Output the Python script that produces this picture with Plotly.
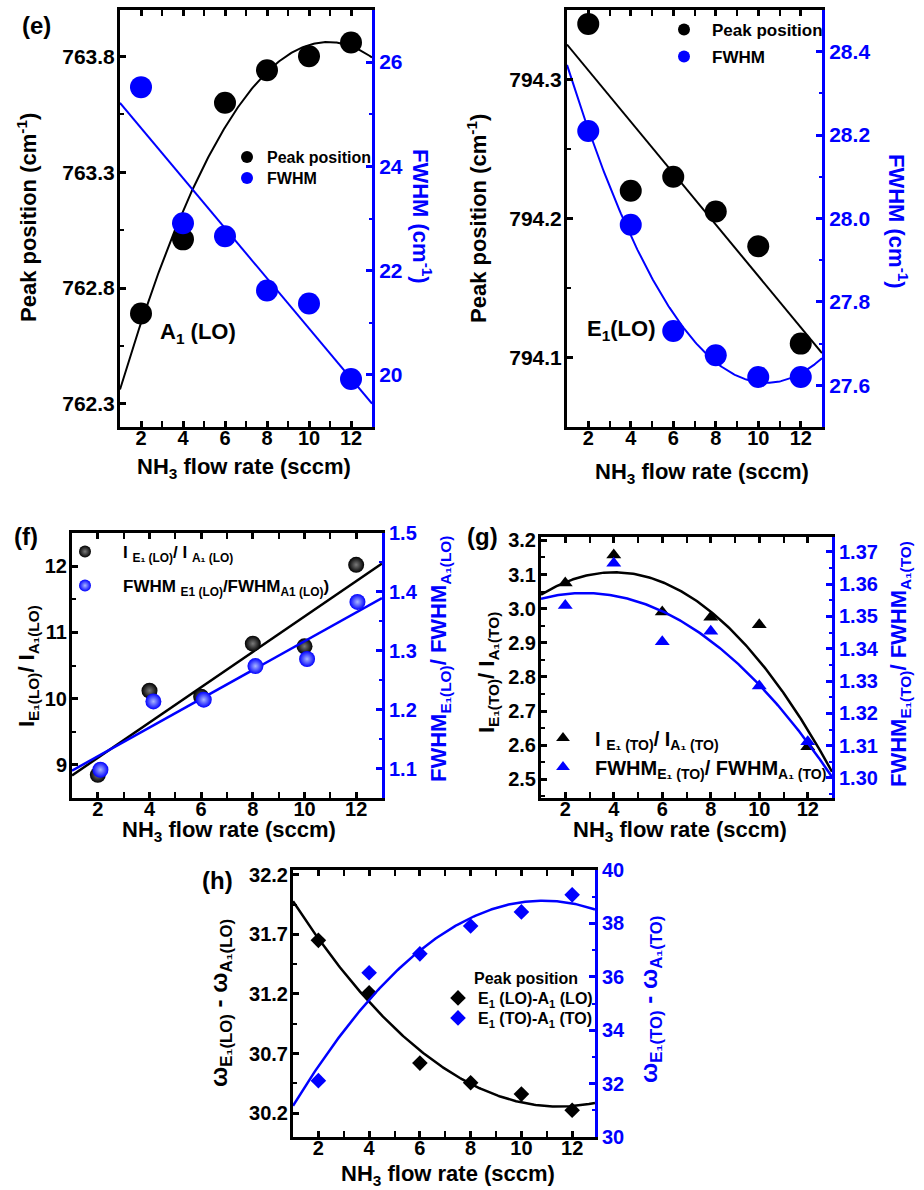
import numpy as np
import plotly.graph_objects as go

W, H = 924, 1190
FONT = "Arial, Liberation Sans, Helvetica, sans-serif"
BLUE = "#0000ff"
BLACK = "#000000"

# ---------------- data ----------------
flow = [2, 4, 6, 8, 10, 12]
# (e) A1(LO)
e1_peak = [762.69, 763.01, 763.60, 763.74, 763.80, 763.86]
e1_fwhm = [25.52, 22.91, 22.66, 21.62, 21.37, 19.92]
# (e) E1(LO)
e2_peak = [794.34, 794.22, 794.23, 794.205, 794.18, 794.11]
e2_fwhm = [28.21, 27.985, 27.73, 27.672, 27.62, 27.62]
# (f)
f_int_ratio = [8.85, 10.12, 10.03, 10.83, 10.79, 12.02]
f_flow_fwhm = [2.1, 4.15, 6.1, 8.1, 10.1, 12.05]
f_fwhm_ratio = [1.098, 1.214, 1.217, 1.274, 1.286, 1.383]
# (g)
g_int_ratio = [3.075, 3.157, 2.99, 2.975, 2.953, 2.595]
g_fwhm_ratio = [1.3534, 1.3665, 1.3422, 1.3454, 1.3285, 1.3112]
# (h)
h_lo_diff = [31.65, 31.21, 30.62, 30.455, 30.36, 30.225]
h_to_diff = [32.11, 36.15, 36.86, 37.90, 38.43, 39.07]


def fit(x, y, deg, x0, x1, n=200):
    c = np.polyfit(x, y, deg)
    xs = np.linspace(x0, x1, n)
    return xs, np.polyval(c, xs)


def dx(l, r):
    return [l / W, r / W]


def dy(t, b):
    return [1 - b / H, 1 - t / H]


def xaxis(dom, anchor, rng):
    return dict(domain=dom, anchor=anchor, range=rng, tickmode="linear", tick0=2, dtick=2,
                ticks="inside", ticklen=6, tickwidth=2.5, tickcolor=BLACK, ticklabelstandoff=-9,
                showline=True, linewidth=3, linecolor=BLACK, mirror="allticks",
                showgrid=False, zeroline=False,
                tickfont=dict(family=FONT, size=20, color=BLACK, weight="bold"),
                minor=dict(ticks="inside", ticklen=3.5, tickwidth=2, dtick=1, tick0=1,
                           tickcolor=BLACK, showgrid=False))


def yleft(dom, anchor, rng, tick0, dtick, mdtick, fmt, size=21):
    return dict(domain=dom, anchor=anchor, range=rng, tickmode="linear", tick0=tick0, dtick=dtick,
                tickformat=fmt, ticks="inside", ticklen=6, tickwidth=2.5, tickcolor=BLACK,
                ticklabelstandoff=-2,
                showline=True, linewidth=3, linecolor=BLACK, mirror=False,
                showgrid=False, zeroline=False, side="left",
                tickfont=dict(family=FONT, size=size, color=BLACK, weight="bold"),
                minor=dict(ticks="inside", ticklen=3.5, tickwidth=2, dtick=mdtick, tick0=tick0,
                           tickcolor=BLACK, showgrid=False))


def yright(over, anchor, rng, tick0, dtick, mdtick, fmt, size=21):
    return dict(overlaying=over, anchor=anchor, range=rng, tickmode="linear", tick0=tick0, dtick=dtick,
                tickformat=fmt, ticks="inside", ticklen=6, tickwidth=2.5, tickcolor=BLUE,
                showline=True, linewidth=3, linecolor=BLUE, showgrid=False, zeroline=False,
                side="right",
                tickfont=dict(family=FONT, size=size, color=BLUE, weight="bold"),
                minor=dict(ticks="inside", ticklen=3.5, tickwidth=2, dtick=mdtick, tick0=tick0,
                           tickcolor=BLUE, showgrid=False))


fig = go.Figure()

# ---------- (e) left: A1(LO) ----------
xs, ys = fit(flow, e1_peak, 2, 1, 13)
fig.add_trace(go.Scatter(x=xs, y=ys, mode="lines", line=dict(color=BLACK, width=2),
                         xaxis="x", yaxis="y", showlegend=False))
xs, ys = fit(flow, e1_fwhm, 1, 1, 13)
fig.add_trace(go.Scatter(x=xs, y=ys, mode="lines", line=dict(color=BLUE, width=2),
                         xaxis="x", yaxis="y2", showlegend=False))
fig.add_trace(go.Scatter(x=flow, y=e1_peak, mode="markers", name="Peak position",
                         marker=dict(color=BLACK, size=22, line=dict(width=0)),
                         xaxis="x", yaxis="y", legend="legend"))
fig.add_trace(go.Scatter(x=flow, y=e1_fwhm, mode="markers", name="FWHM",
                         marker=dict(color=BLUE, size=22, line=dict(width=0)),
                         xaxis="x", yaxis="y2", legend="legend2"))

# ---------- (e) right: E1(LO) ----------
xs, ys = fit(flow, e2_peak, 1, 1, 13)
fig.add_trace(go.Scatter(x=xs, y=ys, mode="lines", line=dict(color=BLACK, width=2),
                         xaxis="x2", yaxis="y3", showlegend=False))
xs, ys = fit(flow, e2_fwhm, 2, 1, 13)
fig.add_trace(go.Scatter(x=xs, y=ys, mode="lines", line=dict(color=BLUE, width=2),
                         xaxis="x2", yaxis="y4", showlegend=False))
fig.add_trace(go.Scatter(x=flow, y=e2_peak, mode="markers", name="Peak position",
                         marker=dict(color=BLACK, size=22, line=dict(width=0)),
                         xaxis="x2", yaxis="y3", legend="legend3"))
fig.add_trace(go.Scatter(x=flow, y=e2_fwhm, mode="markers", name="FWHM",
                         marker=dict(color=BLUE, size=22, line=dict(width=0)),
                         xaxis="x2", yaxis="y4", legend="legend4"))

# ---------- (f) ----------
xs, ys = fit(flow, f_int_ratio, 1, 1, 13)
fig.add_trace(go.Scatter(x=xs, y=ys, mode="lines", line=dict(color=BLACK, width=2.5),
                         xaxis="x3", yaxis="y5", showlegend=False))
xs, ys = fit(f_flow_fwhm, f_fwhm_ratio, 1, 1, 13)
fig.add_trace(go.Scatter(x=xs, y=ys, mode="lines", line=dict(color=BLUE, width=2.5),
                         xaxis="x3", yaxis="y6", showlegend=False))
fig.add_trace(go.Scatter(x=flow, y=f_int_ratio, mode="markers",
                         name="I <sub>E₁ (LO)</sub>/ I <sub>A₁ (LO)</sub>",
                         marker=dict(color=BLACK, size=16, line=dict(width=0),
                                     gradient=dict(type="radial", color="#7a7a7a")),
                         xaxis="x3", yaxis="y5", legend="legend5"))
fig.add_trace(go.Scatter(x=f_flow_fwhm, y=f_fwhm_ratio, mode="markers",
                         name="FWHM <sub>E1 (LO)</sub>/FWHM<sub>A1 (LO)</sub>)",
                         marker=dict(color=BLUE, size=16, line=dict(width=0),
                                     gradient=dict(type="radial", color="#a8b6ff")),
                         xaxis="x3", yaxis="y6", legend="legend6"))

# ---------- (g) ----------
xs, ys = fit(flow, g_int_ratio, 2, 1, 13)
fig.add_trace(go.Scatter(x=xs, y=ys, mode="lines", line=dict(color=BLACK, width=2.5),
                         xaxis="x4", yaxis="y7", showlegend=False))
xs, ys = fit(flow, g_fwhm_ratio, 2, 1, 13)
fig.add_trace(go.Scatter(x=xs, y=ys, mode="lines", line=dict(color=BLUE, width=2.5),
                         xaxis="x4", yaxis="y8", showlegend=False))
fig.add_trace(go.Scatter(x=flow, y=g_int_ratio, mode="markers",
                         name="I <sub>E₁ (TO)</sub>/ I<sub>A₁ (TO)</sub>",
                         marker=dict(color=BLACK, size=13, symbol="triangle-up", line=dict(width=0)),
                         xaxis="x4", yaxis="y7", legend="legend7"))
fig.add_trace(go.Scatter(x=flow, y=g_fwhm_ratio, mode="markers",
                         name="FWHM<sub>E₁ (TO)</sub>/ FWHM<sub>A₁ (TO)</sub>",
                         marker=dict(color=BLUE, size=13, symbol="triangle-up", line=dict(width=0)),
                         xaxis="x4", yaxis="y8", legend="legend8"))

# ---------- (h) ----------
xs, ys = fit(flow, h_lo_diff, 2, 1, 12.9)
fig.add_trace(go.Scatter(x=xs, y=ys, mode="lines", line=dict(color=BLACK, width=2.5),
                         xaxis="x5", yaxis="y9", showlegend=False))
xs, ys = fit(flow, h_to_diff, 2, 1, 12.9)
fig.add_trace(go.Scatter(x=xs, y=ys, mode="lines", line=dict(color=BLUE, width=2.5),
                         xaxis="x5", yaxis="y10", showlegend=False))
fig.add_trace(go.Scatter(x=flow, y=h_lo_diff, mode="markers",
                         name="E<sub>1</sub> (LO)-A<sub>1</sub> (LO)",
                         marker=dict(color=BLACK, size=12, symbol="diamond", line=dict(width=0)),
                         xaxis="x5", yaxis="y9", legend="legend9"))
fig.add_trace(go.Scatter(x=flow, y=h_to_diff, mode="markers",
                         name="E<sub>1</sub> (TO)-A<sub>1</sub> (TO)",
                         marker=dict(color=BLUE, size=12, symbol="diamond", line=dict(width=0)),
                         xaxis="x5", yaxis="y10", legend="legend10"))

# ---------- axes ----------
layout_axes = dict(
    xaxis=xaxis(dx(120, 372), "y", [1, 13]),
    yaxis=yleft(dy(10, 427), "x", [762.2, 764.0], 762.3, 0.5, 0.25, ".1f"),
    yaxis2=yright("y", "x", [19, 27], 20, 2, 1, "d"),
    xaxis2=xaxis(dx(567, 822), "y3", [1, 13]),
    yaxis3=yleft(dy(10, 427), "x2", [794.05, 794.35], 794.1, 0.1, 0.05, ".1f"),
    yaxis4=yright("y3", "x2", [27.5, 28.5], 27.6, 0.2, 0.1, ".1f"),
    xaxis3=xaxis(dx(72, 382), "y5", [1, 13]),
    yaxis5=yleft(dy(533, 798), "x3", [8.5, 12.5], 9, 1, 0.5, "d", size=20),
    yaxis6=yright("y5", "x3", [1.05, 1.5], 1.1, 0.1, 0.05, ".1f", size=20),
    xaxis4=xaxis(dx(541, 832), "y7", [1, 13]),
    yaxis7=yleft(dy(537, 798), "x4", [2.445, 3.21], 2.5, 0.1, 0.05, ".1f", size=20),
    yaxis8=yright("y7", "x4", [1.2938, 1.3746], 1.30, 0.01, 0.005, ".2f", size=20),
    xaxis5=xaxis(dx(293, 595), "y9", [1, 12.9]),
    yaxis9=yleft(dy(870, 1137), "x5", [30.0, 32.24], 30.2, 0.5, 0.25, ".1f", size=20),
    yaxis10=yright("y9", "x5", [30, 40], 30, 2, 1, "d", size=20),
)


def legend(mx, my, size, itemwidth=30):
    # one legend entry per legend box; (mx, my) = pixel centre of the legend symbol
    return dict(x=(mx - 5 - itemwidth / 2) / W, y=1 - my / H, xanchor="left", yanchor="middle",
                bgcolor="rgba(0,0,0,0)", borderwidth=0, itemsizing="constant",
                itemwidth=itemwidth,
                font=dict(family=FONT, size=size, color=BLACK, weight="bold"))


# ---------- annotations ----------
ann = []


def text(t, x, y, size=22, color=BLACK, angle=0, xanchor="center"):
    ann.append(dict(text=t, x=x / W, y=1 - y / H, xref="paper", yref="paper", showarrow=False,
                    xanchor=xanchor, yanchor="middle", textangle=angle,
                    font=dict(family=FONT, size=size, color=color, weight="bold")))


NH3 = "NH<sub>3</sub> flow rate (sccm)"
text("(e)", 36, 25, 24)
text("(f)", 26, 537, 24)
text("(g)", 482, 537, 24)
text("(h)", 217, 880, 24)

text(NH3, 244, 468)
text(NH3, 702, 473)
text(NH3, 229, 831)
text(NH3, 680, 831)
text(NH3, 448, 1175)

text("Peak position (cm<sup>-1</sup>)", 27, 218, angle=-90)
text("FWHM (cm<sup>-1</sup>)", 422, 216, color=BLUE, angle=90)
text("Peak position (cm<sup>-1</sup>)", 477, 219, angle=-90)
text("FWHM (cm<sup>-1</sup>)", 898, 221, color=BLUE, angle=90)

text("I<sub>E₁(LO)</sub>/ I<sub>A₁(LO)</sub>", 28, 666, angle=-90)
text("FWHM<sub>E₁(LO)</sub>/ FWHM<sub>A₁(LO)</sub>", 440, 659, color=BLUE, angle=-90)
text("I<sub>E₁(TO)</sub>/ I<sub>A₁(TO)</sub>", 488, 673, angle=-90)
text("FWHM<sub>E₁(TO)</sub>/ FWHM<sub>A₁(TO)</sub>", 900, 664, color=BLUE, angle=-90)
text("ω<sub>E₁(LO)</sub> - ω<sub>A₁(LO)</sub>", 220, 1003, size=24, angle=-90)
text("ω<sub>E₁(TO)</sub> - ω<sub>A₁(TO)</sub>", 650, 1000, size=24, color=BLUE, angle=-90)

text("A<sub>1</sub> (LO)", 198, 333)
text("E<sub>1</sub>(LO)", 621, 330)
text("Peak position", 472, 978, size=16, xanchor="left")

fig.update_layout(
    width=W, height=H, margin=dict(l=0, r=0, t=0, b=0, pad=0, autoexpand=False),
    paper_bgcolor="white", plot_bgcolor="white",
    font=dict(family=FONT, color=BLACK),
    annotations=ann,
    legend=legend(247, 157, 16),
    legend2=legend(247, 178, 16),
    legend3=legend(684, 30, 17, itemwidth=46),
    legend4=legend(684, 57, 17, itemwidth=46),
    legend5=legend(85, 552, 17, itemwidth=66),
    legend6=legend(85, 586, 17, itemwidth=66),
    legend7=legend(563, 738, 20, itemwidth=54),
    legend8=legend(563, 767, 20, itemwidth=54),
    legend9=legend(458, 998, 16),
    legend10=legend(458, 1018, 16),
    **layout_axes,
)

fig.write_html("out.html", config={"displayModeBar": False},
               post_script="document.body.style.margin='0';")
